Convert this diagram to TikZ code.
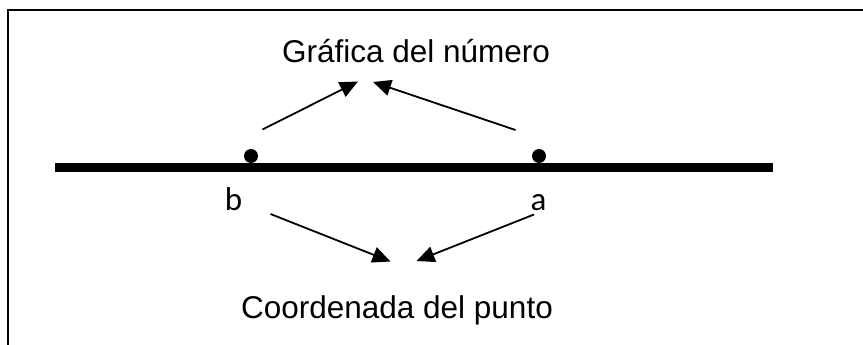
\documentclass[tikz,border=0pt]{standalone}
\usepackage{fontspec}
\setmainfont{Liberation Sans}
\newfontfamily\letterfont{Carlito}
\usepackage{tikz}
\usetikzlibrary{arrows.meta,positioning}

\begin{document}
\begin{tikzpicture}[x=1pt, y=-1pt,
    pointdot/.style={circle, fill=black, inner sep=0pt, minimum size=14pt},
    pointlabel/.style={font=\letterfont\fontsize{33}{36}\selectfont, inner sep=0pt, anchor=base},
    caption/.style={font=\fontsize{31.5}{36}\selectfont, inner sep=0pt, anchor=base},
    pointer/.style={-{Triangle[length=18pt,width=16pt]}, line width=1.8pt}]
    \useasboundingbox (0,0) rectangle (863,345);

    % Frame
    \draw[line width=2pt] (8,345) -- (8,10) -- (863,10);

    % Number line
    \draw[line width=8.4pt] (55,167.5) -- (773,167.5);

    % Points and letters
    \node[pointdot] (dotb) at (251,156) {};
    \node[pointdot] (dota) at (539,156) {};
    \node[pointlabel] (labb) at (233.5,210) {b};
    \node[pointlabel] (laba) at (538.5,210) {a};

    % Captions
    \node[caption] (graph) at (416,63) {Gráfica del número};
    \node[caption] (coord) at (397,318) {Coordenada del punto};

    % Arrow ends
    \coordinate (gb0) at (262.5,129.5);
    \coordinate (gb1) at (358,81.5);
    \coordinate (ga0) at (515.5,130);
    \coordinate (ga1) at (373,82);
    \coordinate (cb0) at (270.5,214);
    \coordinate (cb1) at (390.5,261.5);
    \coordinate (ca0) at (534,214.5);
    \coordinate (ca1) at (416.5,261);

    % Arrows
    \draw[pointer] (gb0) -- (gb1);
    \draw[pointer] (ga0) -- (ga1);
    \draw[pointer] (cb0) -- (cb1);
    \draw[pointer] (ca0) -- (ca1);
\end{tikzpicture}
\end{document}
